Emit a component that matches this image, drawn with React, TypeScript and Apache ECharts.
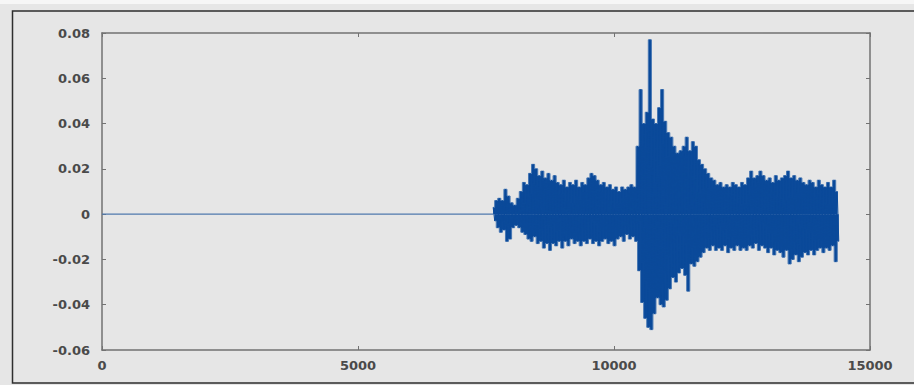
import React, { useEffect, useRef } from "react";
import * as echarts from "echarts";

// x axis range and ticks
const xMin = 0;
const xMax = 15000;
const xInterval = 5000;
// y axis range and ticks
const yMin = -0.06;
const yMax = 0.08;
const yInterval = 0.02;

// quiet part of the record (before the onset)
const flatX = [0, 7640];
const flatY = [0, 0];

// active part: onset sample and spacing of the read-off peaks
const burstStart = 7640;
const burstStep = 60;

// positive peaks
const upperPeaks = [
  0.003, 0.006, 0.007, 0.006, 0.011, 0.008, 0.005, 0.004, 0.007, 0.010,
  0.014, 0.013, 0.018, 0.022, 0.020, 0.017, 0.019, 0.016, 0.018, 0.015,
  0.017, 0.014, 0.013, 0.015, 0.012, 0.014, 0.013, 0.015, 0.012, 0.014,
  0.013, 0.016, 0.018, 0.017, 0.015, 0.013, 0.014, 0.012, 0.013, 0.011,
  0.012, 0.010, 0.012, 0.011, 0.012, 0.013, 0.012, 0.030, 0.055, 0.040,
  0.045, 0.077, 0.042, 0.040, 0.047, 0.055, 0.041, 0.036, 0.034, 0.030,
  0.027, 0.028, 0.030, 0.034, 0.028, 0.032, 0.030, 0.024, 0.022, 0.020,
  0.018, 0.016, 0.015, 0.013, 0.014, 0.012, 0.013, 0.012, 0.014, 0.013,
  0.012, 0.014, 0.013, 0.016, 0.019, 0.016, 0.017, 0.019, 0.017, 0.015,
  0.016, 0.014, 0.017, 0.015, 0.016, 0.017, 0.019, 0.016, 0.017, 0.015,
  0.016, 0.014, 0.013, 0.015, 0.014, 0.012, 0.015, 0.013, 0.012, 0.014,
  0.012, 0.015, 0.010,
];

// negative peaks
const lowerPeaks = [
  -0.003, -0.006, -0.008, -0.007, -0.012, -0.011, -0.006, -0.005, -0.006, -0.008,
  -0.009, -0.011, -0.012, -0.010, -0.013, -0.012, -0.015, -0.013, -0.016, -0.013,
  -0.014, -0.012, -0.015, -0.012, -0.014, -0.011, -0.013, -0.012, -0.014, -0.012,
  -0.013, -0.011, -0.013, -0.012, -0.014, -0.012, -0.011, -0.013, -0.012, -0.014,
  -0.011, -0.010, -0.012, -0.009, -0.011, -0.010, -0.012, -0.025, -0.039, -0.046,
  -0.050, -0.051, -0.044, -0.037, -0.040, -0.041, -0.038, -0.033, -0.028, -0.030,
  -0.026, -0.024, -0.027, -0.034, -0.022, -0.023, -0.021, -0.019, -0.017, -0.015,
  -0.016, -0.014, -0.016, -0.015, -0.016, -0.014, -0.017, -0.015, -0.016, -0.014,
  -0.016, -0.015, -0.016, -0.014, -0.015, -0.013, -0.016, -0.014, -0.015, -0.017,
  -0.015, -0.018, -0.016, -0.017, -0.019, -0.016, -0.022, -0.020, -0.018, -0.021,
  -0.019, -0.017, -0.018, -0.016, -0.018, -0.016, -0.015, -0.017, -0.015, -0.016,
  -0.014, -0.021, -0.012,
];

const fmtY = (v: number) => {
  const r = Math.round(v * 100) / 100;
  return r === 0 ? "0" : String(r);
};
const fmtX = (v: number) => String(Math.round(v));

export default function App() {
  const ref = useRef<HTMLDivElement>(null);

  useEffect(() => {
    if (!ref.current) return;
    const chart = echarts.init(ref.current, null, { renderer: "svg" });

    const flatData = flatX.map((x, i) => [x, flatY[i]]);
    const upData = upperPeaks.map((v, i) => [burstStart + i * burstStep, v]);
    const loData = lowerPeaks.map((v, i) => [burstStart + i * burstStep + burstStep / 2, v]);
    const zigzag: number[][] = [];
    upData.forEach((p, i) => {
      zigzag.push(p);
      zigzag.push(loData[i]);
    });

    const axisColor = "#727272";
    const labelStyle = {
      color: "#4a4a4a",
      fontFamily: "DejaVu Sans",
      fontWeight: "bold" as const,
      fontSize: 13,
    };
    const dark = "#0b4a9a";
    const tip = "#4676b2";

    const envelope = (data: number[][]) => ({
      type: "line",
      data,
      step: "middle",
      showSymbol: false,
      lineStyle: { color: tip, width: 1 },
      areaStyle: { color: dark, opacity: 1, origin: 0 },
      silent: true,
      z: 2,
    });

    chart.setOption({
      animation: false,
      backgroundColor: "#e6e6e6",
      graphic: [
        {
          type: "rect",
          shape: { x: 0, y: 0, width: 914, height: 4 },
          style: { fill: "#f6f6f6" },
          silent: true,
          z: -10,
        },
        {
          type: "rect",
          shape: { x: 12.5, y: 11, width: 930, height: 372 },
          style: { fill: "none", stroke: "#2e2e2e", lineWidth: 1.5 },
          silent: true,
          z: -9,
        },
      ],
      grid: {
        left: 102,
        right: 44,
        top: 33,
        bottom: 35,
        containLabel: false,
      },
      xAxis: [
        {
          type: "value",
          min: xMin,
          max: xMax,
          interval: xInterval,
          position: "bottom",
          splitLine: { show: false },
          axisLine: { onZero: false, lineStyle: { color: axisColor, width: 1.5 } },
          axisTick: { inside: true, length: 4, lineStyle: { color: axisColor } },
          axisLabel: { ...labelStyle, margin: 9, formatter: fmtX },
        },
        {
          type: "value",
          min: xMin,
          max: xMax,
          interval: xInterval,
          position: "top",
          splitLine: { show: false },
          axisLine: { onZero: false, lineStyle: { color: axisColor, width: 1.5 } },
          axisTick: { inside: true, length: 4, lineStyle: { color: axisColor } },
          axisLabel: { show: false },
        },
      ],
      yAxis: [
        {
          type: "value",
          min: yMin,
          max: yMax,
          interval: yInterval,
          position: "left",
          splitLine: { show: false },
          axisLine: { onZero: false, lineStyle: { color: axisColor, width: 1.5 } },
          axisTick: { inside: true, length: 4, lineStyle: { color: axisColor } },
          axisLabel: { ...labelStyle, margin: 12, formatter: fmtY },
        },
        {
          type: "value",
          min: yMin,
          max: yMax,
          interval: yInterval,
          position: "right",
          splitLine: { show: false },
          axisLine: { onZero: false, lineStyle: { color: axisColor, width: 1.5 } },
          axisTick: { inside: true, length: 4, lineStyle: { color: axisColor } },
          axisLabel: { show: false },
        },
      ],
      series: [
        {
          type: "line",
          data: flatData,
          showSymbol: false,
          lineStyle: { color: "#4f79ad", width: 1.2 },
          silent: true,
        },
        envelope(upData),
        envelope(loData),
        {
          type: "line",
          data: zigzag,
          showSymbol: false,
          lineStyle: { color: dark, width: 1 },
          silent: true,
          z: 3,
        },
      ],
    });

    return () => chart.dispose();
  }, []);

  return (
    <div
      ref={ref}
      style={{ position: "fixed", left: 0, top: 0, width: 914, height: 385 }}
    />
  );
}
